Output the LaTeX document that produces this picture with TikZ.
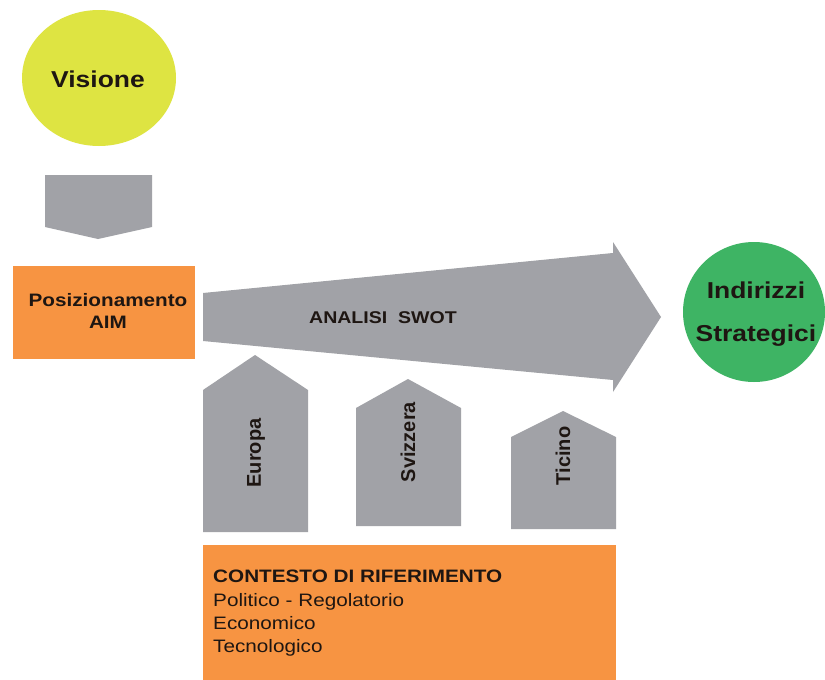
\documentclass[tikz,border=0pt]{standalone}
\usepackage{fontspec}
\setmainfont{Liberation Sans}
\definecolor{visyellow}{RGB}{222,228,66}
\definecolor{boxorange}{RGB}{247,148,66}
\definecolor{shapegrey}{RGB}{161,162,167}
\definecolor{stratgreen}{RGB}{62,180,100}
\definecolor{txt}{RGB}{30,22,18}
\begin{document}
\begin{tikzpicture}[x=1pt,y=-1pt,
  lbl/.style={font=\bfseries\fontsize{18}{21}\selectfont, text=txt, xscale=1.15, align=center, inner sep=0pt},
  biglbl/.style={font=\bfseries\fontsize{23}{43}\selectfont, text=txt, xscale=1.15, align=center, inner sep=0pt},
  vlbl/.style={font=\bfseries\fontsize{20}{22}\selectfont, text=txt, rotate=90, inner sep=0pt},
  grey/.style={fill=shapegrey, draw=none}]
\useasboundingbox[fill=white] (0,0) rectangle (825,680);
% Visione
\fill[visyellow] (99,78) ellipse [x radius=77, y radius=68];
\node[biglbl] (vis) at (98,79) {Visione};
% down arrow
\fill[grey] (45,175) -- (152,175) -- (152,227) -- (98,239) -- (45,227) -- cycle;
% Posizionamento
\fill[boxorange] (13,266) rectangle (195,359);
\node[lbl, text width=150pt] (pos) at (108,311) {Posizionamento\\[1pt]AIM};
% big arrow
\fill[grey] (203,293) -- (613,253) -- (613,242) -- (661,317) -- (613,392) -- (613,380) -- (203,341) -- cycle;
\node[lbl, font=\bfseries\fontsize{17}{20}\selectfont] (swot) at (383,318) {ANALISI\ \ SWOT};
% Indirizzi
\fill[stratgreen] (754,312) ellipse [x radius=71, y radius=70];
\node[biglbl] (ind) at (756,314) {Indirizzi\\Strategici};
% houses
\fill[grey] (203,532) -- (203,390) -- (255,355) -- (308,390) -- (308,532) -- cycle;
\node[vlbl] (eur) at (256,453) {Europa};
\fill[grey] (356,526) -- (356,408) -- (408,379) -- (461,408) -- (461,526) -- cycle;
\node[vlbl] (svi) at (408,442) {Svizzera};
\fill[grey] (511,529) -- (511,437) -- (563,411) -- (616,437) -- (616,529) -- cycle;
\node[vlbl] (tic) at (563,456) {Ticino};
% Contesto
\fill[boxorange] (203,545) rectangle (616,680);
\node[lbl, anchor=north west, align=left, font=\fontsize{18}{23.3}\selectfont] (ctx) at (213,570)
  {\textbf{CONTESTO DI RIFERIMENTO}\\Politico - Regolatorio\\Economico\\Tecnologico};
\end{tikzpicture}
\end{document}
